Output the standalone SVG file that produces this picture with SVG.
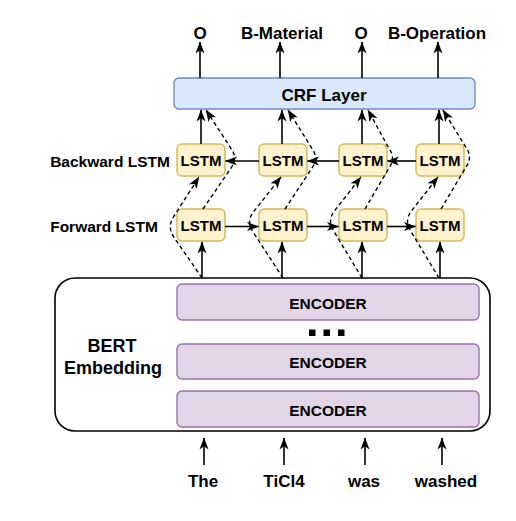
<svg xmlns="http://www.w3.org/2000/svg" width="516" height="521" viewBox="0 0 516 521">
<style>
text{font-family:"Liberation Sans",Arial,Helvetica,sans-serif;font-weight:bold;fill:#000;text-anchor:middle}
.lstm{fill:#fff2cc;stroke:#d6b656;stroke-width:1.4}
.enc{fill:#e1d5e7;stroke:#9673a6;stroke-width:1.4}
.crf{fill:#dae8fc;stroke:#6c8ebf;stroke-width:1.4}
.ln{fill:none;stroke:#000;stroke-width:1.6;marker-end:url(#ah)}
.dl{fill:none;stroke:#000;stroke-width:1.4;stroke-dasharray:4 3;marker-end:url(#ah)}
.t14{font-size:15px}
.t15{font-size:15.5px}
.t17{font-size:17px}
</style>
<defs>
<marker id="ah" markerUnits="userSpaceOnUse" markerWidth="13" markerHeight="11" refX="11.5" refY="5" orient="auto">
<path d="M0,0.5 L12,5 L0,9.5 L3.2,5 Z" fill="#000" stroke="none"/>
</marker>
</defs>
<rect width="516" height="521" fill="#fff"/>

<g id="outputs">
<text class="t17" x="200" y="39">O</text>
<text class="t17" x="282" y="39">B-Material</text>
<text class="t17" x="361" y="39">O</text>
<text class="t17" x="437" y="39">B-Operation</text>
</g>

<g id="crf">
<rect class="crf" x="174" y="78" width="301" height="31" rx="5"/>
<text class="t17" x="324" y="101">CRF Layer</text>
</g>

<g id="labels">
<text class="t15" x="110" y="167">Backward LSTM</text>
<text class="t15" x="104" y="232">Forward LSTM</text>
</g>

<g id="bwd1"><rect class="lstm" x="177" y="144" width="48" height="32" rx="5"/><text class="t14" x="201" y="165.5">LSTM</text></g>
<g id="bwd2"><rect class="lstm" x="259" y="144" width="48" height="32" rx="5"/><text class="t14" x="283" y="165.5">LSTM</text></g>
<g id="bwd3"><rect class="lstm" x="339" y="144" width="48" height="32" rx="5"/><text class="t14" x="363" y="165.5">LSTM</text></g>
<g id="bwd4"><rect class="lstm" x="416" y="144" width="48" height="32" rx="5"/><text class="t14" x="440" y="165.5">LSTM</text></g>

<g id="fwd1"><rect class="lstm" x="177" y="209" width="48" height="32" rx="5"/><text class="t14" x="201" y="230.5">LSTM</text></g>
<g id="fwd2"><rect class="lstm" x="259" y="209" width="48" height="32" rx="5"/><text class="t14" x="283" y="230.5">LSTM</text></g>
<g id="fwd3"><rect class="lstm" x="339" y="209" width="48" height="32" rx="5"/><text class="t14" x="363" y="230.5">LSTM</text></g>
<g id="fwd4"><rect class="lstm" x="416" y="209" width="48" height="32" rx="5"/><text class="t14" x="440" y="230.5">LSTM</text></g>

<g id="bert">
<rect x="55" y="278" width="435" height="153" rx="20" fill="#fff" stroke="#000" stroke-width="1.6"/>
<text x="112" y="352" font-size="18px">BERT</text>
<text x="113" y="373.5" font-size="18px">Embedding</text>
</g>
<g id="enc1"><rect class="enc" x="177" y="284" width="302" height="36" rx="5"/><text class="t15" x="328" y="309">ENCODER</text></g>
<g id="dots">
<rect x="309" y="329.5" width="6.5" height="6.5" fill="#000"/>
<rect x="323.5" y="329.5" width="6.5" height="6.5" fill="#000"/>
<rect x="338" y="329.5" width="6.5" height="6.5" fill="#000"/>
</g>
<g id="enc2"><rect class="enc" x="177" y="344" width="302" height="35" rx="5"/><text class="t15" x="328" y="367.5">ENCODER</text></g>
<g id="enc3"><rect class="enc" x="177" y="391" width="302" height="36" rx="5"/><text class="t15" x="328" y="416">ENCODER</text></g>

<g id="inputs">
<text class="t17" x="203" y="487">The</text>
<text class="t17" x="284" y="487">TiCl4</text>
<text class="t17" x="364" y="487">was</text>
<text class="t17" x="446" y="487">washed</text>
</g>

<g id="connectors">
<path class="ln" d="M204,465 V438"/>
<path class="ln" d="M284,465 V438"/>
<path class="ln" d="M365,465 V438"/>
<path class="ln" d="M442,465 V438"/>
<path class="ln" d="M202,278 V242"/>
<path class="ln" d="M282,278 V242"/>
<path class="ln" d="M362,278 V242"/>
<path class="ln" d="M440,278 V242"/>
<path class="ln" d="M225,226.5 H258.5"/>
<path class="ln" d="M307,226.5 H338.5"/>
<path class="ln" d="M387,226.5 H415.5"/>
<path class="ln" d="M259,161 H225.5"/>
<path class="ln" d="M339,161 H307.5"/>
<path class="ln" d="M416,161 H387.5"/>
<path class="ln" d="M201,144 V110"/>
<path class="ln" d="M282,144 V110"/>
<path class="ln" d="M362,144 V110"/>
<path class="ln" d="M439,144 V110"/>
<path class="ln" d="M200,78 V42"/>
<path class="ln" d="M280,78 V42"/>
<path class="ln" d="M362,78 V42"/>
<path class="ln" d="M438,78 V42"/>
<path class="dl" d="M202,278 L174,237.4 Q167,227 173.4,217 L199,177"/>
<path class="dl" d="M283,278 L253.4,232.4 Q246,222 253,212.5 L281,177"/>
<path class="dl" d="M362,278 L334,231.5 Q327,221 334,211.5 L361,177"/>
<path class="dl" d="M439,278 L411,231.5 Q404,221 411,211.5 L438,177"/>
<path class="dl" d="M203,209 L231,168 Q238,158 231,148.5 L206,110"/>
<path class="dl" d="M285,209 L312,168 Q319,158 312,148.5 L288,110"/>
<path class="dl" d="M365,209 L389,168 Q396,158 389,148.5 L368,110"/>
<path class="dl" d="M441,209 L466,167 Q473,157 466,147.5 L443,110"/>
</g>
</svg>
